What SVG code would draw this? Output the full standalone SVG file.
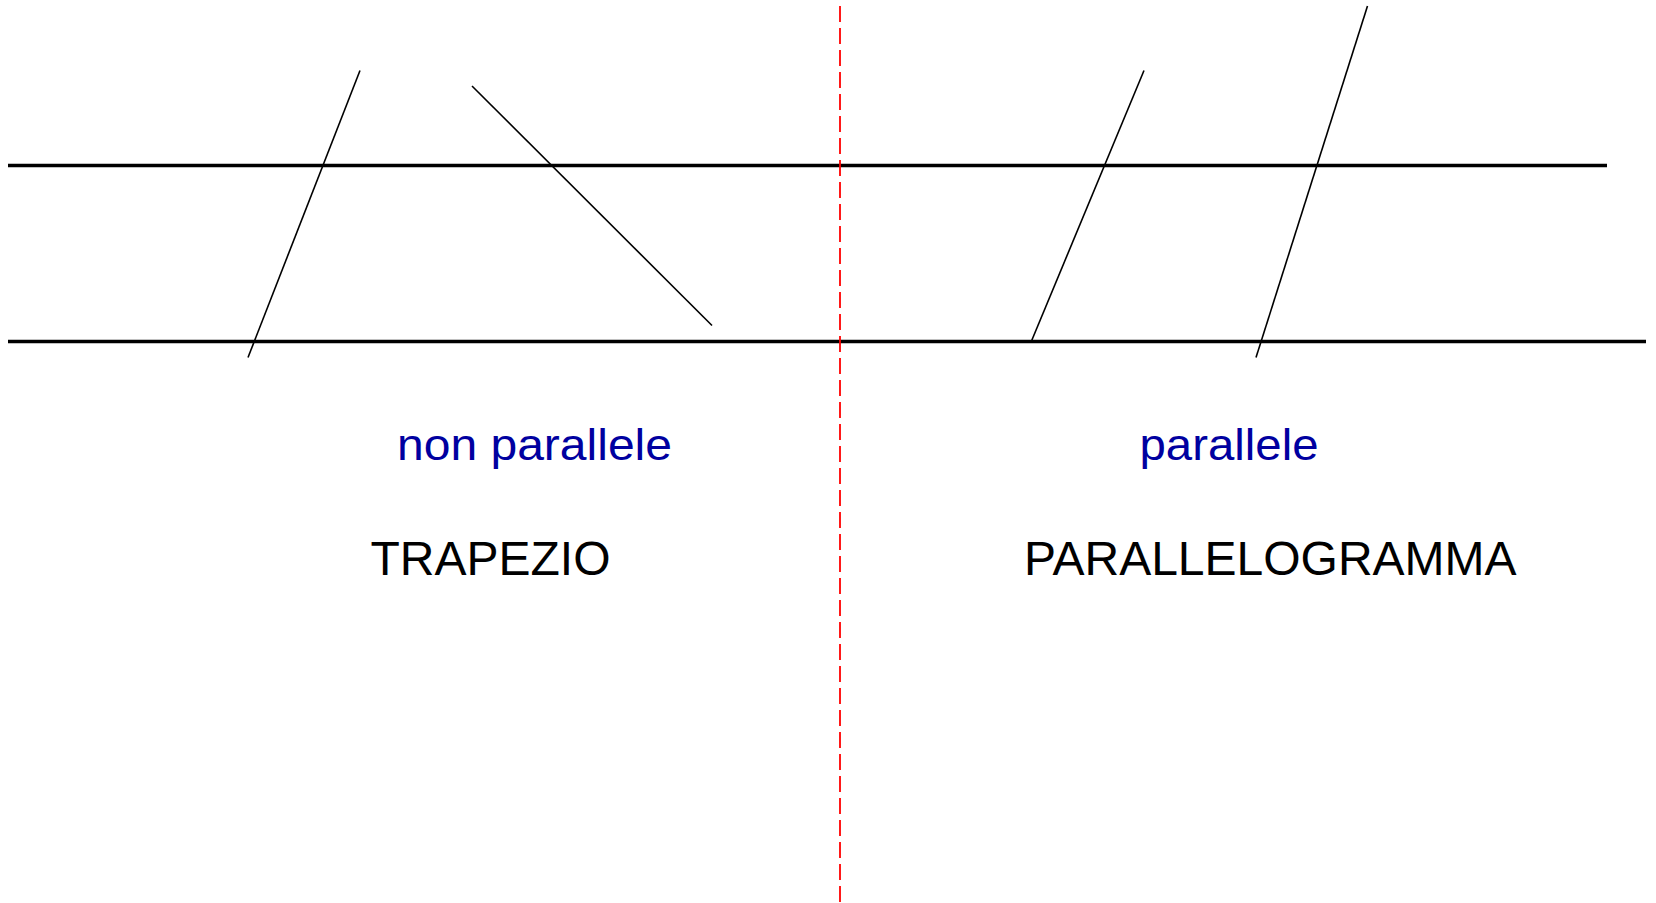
<svg xmlns="http://www.w3.org/2000/svg" width="1656" height="903" viewBox="0 0 1656 903">
<style>
.base{stroke:#000;stroke-width:3.6;fill:none}
.side{stroke:#000;stroke-width:1.6;fill:none}
.axis{stroke:#f00;stroke-width:1.8;stroke-dasharray:16 6;fill:none}
.lbl{font-family:"Liberation Sans",Arial,sans-serif;fill:#0000a0}
.name{font-family:"Liberation Sans",Arial,sans-serif;font-size:48px;fill:#000}
</style>
<rect width="1656" height="903" fill="#fff"/>
<g id="connectors">
<line class="base" x1="8" y1="165.5" x2="1607" y2="165.5"/>
<line class="base" x1="8" y1="341.5" x2="1646" y2="341.5"/>
<line class="side" x1="360" y1="70.5" x2="248" y2="357.5"/>
<line class="side" x1="472" y1="86" x2="712" y2="325.5"/>
<line class="side" x1="1144" y1="70.5" x2="1031.5" y2="341"/>
<line class="side" x1="1367.5" y1="6" x2="1256" y2="357.5"/>
<line class="axis" x1="840" y1="6" x2="840" y2="903"/>
</g>
<g id="label-non-parallele"><text class="lbl" x="397" y="459.5" font-size="45" textLength="275" lengthAdjust="spacingAndGlyphs">non parallele</text></g>
<g id="label-parallele"><text class="lbl" x="1139.5" y="459.5" font-size="45" textLength="179" lengthAdjust="spacingAndGlyphs">parallele</text></g>
<g id="label-trapezio"><text class="name" x="370.5" y="575">TRAPEZIO</text></g>
<g id="label-parallelogramma"><text class="name" x="1024" y="575">PARALLELOGRAMMA</text></g>
</svg>
